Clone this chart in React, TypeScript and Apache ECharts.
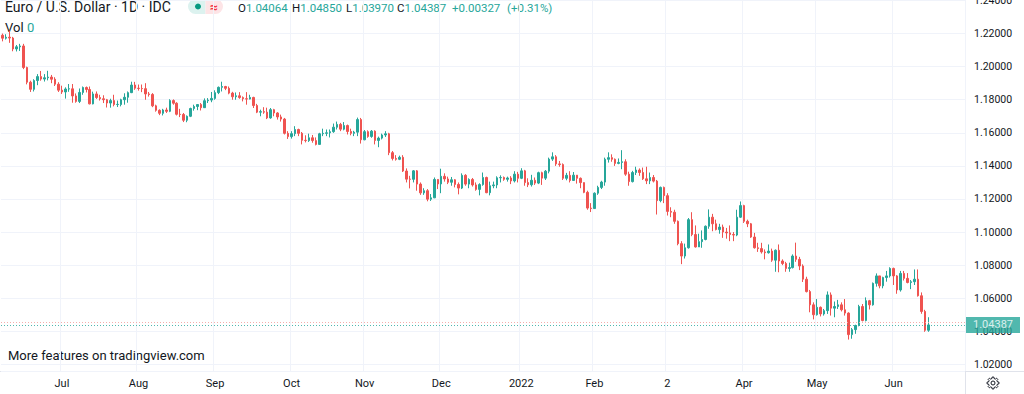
import React, { useEffect, useRef } from "react";
import * as echarts from "echarts";

// ---- data ----
const firstDate = "2021-06-08";
const lastDate = "2022-06-15";
const padSlots = 10;

const monthLabelDates = [
  "2021-07-01", "2021-08-02", "2021-09-01", "2021-10-01", "2021-11-01", "2021-12-01",
  "2022-01-03", "2022-02-01", "2022-03-02", "2022-04-01", "2022-05-02", "2022-06-01",
];
const monthLabels = ["Jul", "Aug", "Sep", "Oct", "Nov", "Dec", "2022", "Feb", "2", "Apr", "May", "Jun"];

// [open, close, low, high]
const ohlc: number[][] = [
  // Jun 2021
  [1.2190, 1.2172, 1.2153, 1.2200], [1.2172, 1.2178, 1.2164, 1.2196], [1.2178, 1.2173, 1.2144, 1.2219], [1.2173, 1.2107, 1.2093, 1.2180],
  [1.2107, 1.2120, 1.2092, 1.2131], [1.2120, 1.2125, 1.2095, 1.2138], [1.2125, 1.1995, 1.1985, 1.2138], [1.1995, 1.1906, 1.1893, 1.2000], [1.1906, 1.1863, 1.1847, 1.1915],
  [1.1863, 1.1916, 1.1850, 1.1924], [1.1916, 1.1940, 1.1888, 1.1955], [1.1940, 1.1925, 1.1915, 1.1974], [1.1925, 1.1933, 1.1910, 1.1955], [1.1933, 1.1937, 1.1917, 1.1975],
  [1.1937, 1.1924, 1.1900, 1.1950], [1.1924, 1.1894, 1.1883, 1.1936], [1.1894, 1.1858, 1.1847, 1.1906],
  // Jul
  [1.1858, 1.1847, 1.1835, 1.1885], [1.1847, 1.1865, 1.1807, 1.1875],
  [1.1865, 1.1866, 1.1848, 1.1895], [1.1866, 1.1823, 1.1782, 1.1895], [1.1823, 1.1790, 1.1782, 1.1838], [1.1790, 1.1844, 1.1780, 1.1868], [1.1844, 1.1874, 1.1830, 1.1880],
  [1.1874, 1.1862, 1.1844, 1.1880], [1.1862, 1.1775, 1.1772, 1.1880], [1.1775, 1.1835, 1.1772, 1.1849], [1.1835, 1.1813, 1.1805, 1.1850], [1.1813, 1.1806, 1.1795, 1.1830],
  [1.1806, 1.1800, 1.1780, 1.1827], [1.1800, 1.1780, 1.1753, 1.1805], [1.1780, 1.1795, 1.1752, 1.1806], [1.1795, 1.1771, 1.1760, 1.1830], [1.1771, 1.1772, 1.1756, 1.1795],
  [1.1771, 1.1800, 1.1760, 1.1806], [1.1800, 1.1815, 1.1770, 1.1839], [1.1815, 1.1843, 1.1782, 1.1850], [1.1843, 1.1889, 1.1840, 1.1909], [1.1889, 1.1870, 1.1860, 1.1908],
  // Aug
  [1.1870, 1.1868, 1.1855, 1.1892], [1.1868, 1.1867, 1.1846, 1.1892], [1.1867, 1.1835, 1.1800, 1.1900], [1.1835, 1.1832, 1.1819, 1.1847], [1.1832, 1.1763, 1.1755, 1.1840],
  [1.1763, 1.1736, 1.1728, 1.1770], [1.1736, 1.1718, 1.1707, 1.1742], [1.1718, 1.1738, 1.1705, 1.1745], [1.1738, 1.1730, 1.1720, 1.1752], [1.1730, 1.1795, 1.1725, 1.1803],
  [1.1795, 1.1779, 1.1770, 1.1802], [1.1779, 1.1712, 1.1705, 1.1785], [1.1712, 1.1711, 1.1695, 1.1745], [1.1711, 1.1676, 1.1665, 1.1720], [1.1676, 1.1700, 1.1664, 1.1705],
  [1.1700, 1.1747, 1.1695, 1.1752], [1.1747, 1.1759, 1.1734, 1.1770], [1.1759, 1.1771, 1.1737, 1.1774], [1.1771, 1.1752, 1.1735, 1.1780], [1.1752, 1.1794, 1.1750, 1.1808],
  [1.1794, 1.1798, 1.1780, 1.1810], [1.1798, 1.1808, 1.1785, 1.1847],
  // Sep
  [1.1808, 1.1843, 1.1800, 1.1857], [1.1843, 1.1875, 1.1834, 1.1880], [1.1875, 1.1880, 1.1850, 1.1909],
  [1.1880, 1.1869, 1.1858, 1.1884], [1.1869, 1.1840, 1.1833, 1.1880], [1.1840, 1.1818, 1.1800, 1.1848], [1.1818, 1.1824, 1.1800, 1.1844], [1.1824, 1.1813, 1.1806, 1.1846],
  [1.1813, 1.1806, 1.1790, 1.1820], [1.1806, 1.1804, 1.1770, 1.1846], [1.1804, 1.1814, 1.1802, 1.1830], [1.1814, 1.1765, 1.1750, 1.1818], [1.1765, 1.1725, 1.1719, 1.1775],
  [1.1725, 1.1728, 1.1700, 1.1740], [1.1728, 1.1725, 1.1715, 1.1755], [1.1725, 1.1690, 1.1683, 1.1752], [1.1690, 1.1740, 1.1685, 1.1750], [1.1740, 1.1720, 1.1700, 1.1745],
  [1.1720, 1.1696, 1.1680, 1.1725], [1.1696, 1.1683, 1.1668, 1.1710], [1.1683, 1.1597, 1.1590, 1.1690], [1.1597, 1.1577, 1.1563, 1.1610],
  // Oct
  [1.1577, 1.1595, 1.1565, 1.1610],
  [1.1595, 1.1620, 1.1580, 1.1640], [1.1620, 1.1597, 1.1580, 1.1625], [1.1597, 1.1555, 1.1530, 1.1605], [1.1555, 1.1553, 1.1542, 1.1585], [1.1553, 1.1570, 1.1545, 1.1595],
  [1.1570, 1.1553, 1.1540, 1.1587], [1.1553, 1.1530, 1.1524, 1.1572], [1.1530, 1.1594, 1.1530, 1.1600], [1.1594, 1.1597, 1.1580, 1.1625], [1.1597, 1.1600, 1.1580, 1.1620],
  [1.1600, 1.1607, 1.1572, 1.1620], [1.1607, 1.1634, 1.1600, 1.1656], [1.1634, 1.1651, 1.1620, 1.1668], [1.1651, 1.1622, 1.1610, 1.1660], [1.1622, 1.1644, 1.1615, 1.1665],
  [1.1644, 1.1608, 1.1590, 1.1650], [1.1608, 1.1597, 1.1585, 1.1625], [1.1597, 1.1604, 1.1580, 1.1612], [1.1604, 1.1680, 1.1580, 1.1692], [1.1680, 1.1558, 1.1535, 1.1690],
  // Nov
  [1.1558, 1.1607, 1.1555, 1.1617], [1.1607, 1.1578, 1.1570, 1.1615], [1.1578, 1.1610, 1.1570, 1.1617], [1.1610, 1.1554, 1.1530, 1.1615], [1.1554, 1.1568, 1.1513, 1.1577],
  [1.1568, 1.1587, 1.1560, 1.1595], [1.1587, 1.1594, 1.1575, 1.1610], [1.1594, 1.1480, 1.1465, 1.1600], [1.1480, 1.1445, 1.1433, 1.1490], [1.1445, 1.1440, 1.1432, 1.1465],
  [1.1440, 1.1452, 1.1435, 1.1462],
  [1.1452, 1.1369, 1.1363, 1.1465], [1.1369, 1.1320, 1.1300, 1.1385], [1.1320, 1.1319, 1.1264, 1.1340], [1.1319, 1.1370, 1.1300, 1.1375], [1.1370, 1.1290, 1.1250, 1.1375],
  [1.1290, 1.1237, 1.1225, 1.1300], [1.1237, 1.1250, 1.1225, 1.1265], [1.1250, 1.1199, 1.1186, 1.1260], [1.1199, 1.1207, 1.1188, 1.1230], [1.1207, 1.1318, 1.1205, 1.1330],
  [1.1318, 1.1291, 1.1260, 1.1320], [1.1291, 1.1337, 1.1235, 1.1383],
  // Dec
  [1.1337, 1.1321, 1.1305, 1.1355], [1.1321, 1.1301, 1.1290, 1.1335], [1.1301, 1.1316, 1.1280, 1.1333],
  [1.1316, 1.1288, 1.1270, 1.1320], [1.1288, 1.1266, 1.1228, 1.1300], [1.1266, 1.1343, 1.1260, 1.1355], [1.1343, 1.1290, 1.1280, 1.1350], [1.1290, 1.1318, 1.1265, 1.1325],
  [1.1318, 1.1285, 1.1275, 1.1327], [1.1285, 1.1258, 1.1250, 1.1300], [1.1258, 1.1287, 1.1222, 1.1295], [1.1287, 1.1330, 1.1280, 1.1360], [1.1330, 1.1238, 1.1235, 1.1335],
  [1.1238, 1.1280, 1.1222, 1.1305], [1.1280, 1.1285, 1.1265, 1.1305], [1.1285, 1.1328, 1.1265, 1.1337], [1.1328, 1.1330, 1.1300, 1.1343], [1.1330, 1.1319, 1.1310, 1.1336],
  [1.1319, 1.1327, 1.1305, 1.1335], [1.1327, 1.1309, 1.1290, 1.1338], [1.1309, 1.1350, 1.1300, 1.1368], [1.1350, 1.1325, 1.1300, 1.1364], [1.1325, 1.1370, 1.1320, 1.1386],
  // Jan 2022
  [1.1370, 1.1299, 1.1280, 1.1376], [1.1299, 1.1286, 1.1272, 1.1325], [1.1286, 1.1313, 1.1275, 1.1346], [1.1313, 1.1296, 1.1285, 1.1330], [1.1296, 1.1359, 1.1290, 1.1365],
  [1.1359, 1.1326, 1.1285, 1.1365], [1.1326, 1.1368, 1.1315, 1.1375], [1.1368, 1.1441, 1.1355, 1.1450], [1.1441, 1.1455, 1.1430, 1.1482], [1.1455, 1.1412, 1.1400, 1.1465],
  [1.1412, 1.1408, 1.1395, 1.1430], [1.1408, 1.1325, 1.1315, 1.1415], [1.1325, 1.1343, 1.1313, 1.1358], [1.1343, 1.1312, 1.1300, 1.1368], [1.1312, 1.1344, 1.1310, 1.1363],
  [1.1344, 1.1325, 1.1293, 1.1345], [1.1325, 1.1299, 1.1265, 1.1330], [1.1299, 1.1240, 1.1235, 1.1300], [1.1240, 1.1145, 1.1135, 1.1250], [1.1145, 1.1142, 1.1121, 1.1175],
  [1.1142, 1.1235, 1.1140, 1.1240],
  // Feb
  [1.1235, 1.1270, 1.1225, 1.1280], [1.1270, 1.1302, 1.1260, 1.1310], [1.1302, 1.1440, 1.1280, 1.1450], [1.1440, 1.1450, 1.1420, 1.1482],
  [1.1450, 1.1440, 1.1425, 1.1470], [1.1440, 1.1415, 1.1400, 1.1445], [1.1415, 1.1421, 1.1410, 1.1445], [1.1421, 1.1425, 1.1380, 1.1495], [1.1425, 1.1350, 1.1340, 1.1440],
  [1.1350, 1.1305, 1.1280, 1.1365], [1.1305, 1.1360, 1.1300, 1.1370], [1.1360, 1.1375, 1.1345, 1.1395], [1.1375, 1.1360, 1.1340, 1.1385], [1.1360, 1.1322, 1.1315, 1.1390],
  [1.1322, 1.1310, 1.1290, 1.1395], [1.1310, 1.1330, 1.1290, 1.1360], [1.1330, 1.1308, 1.1300, 1.1345], [1.1308, 1.1190, 1.1106, 1.1315], [1.1190, 1.1270, 1.1180, 1.1275],
  [1.1270, 1.1220, 1.1175, 1.1275],
  // Mar
  [1.1220, 1.1125, 1.1100, 1.1235], [1.1125, 1.1120, 1.1090, 1.1150], [1.1120, 1.1065, 1.1050, 1.1135], [1.1065, 1.0930, 1.0920, 1.1070],
  [1.0930, 1.0855, 1.0806, 1.0945], [1.0855, 1.0905, 1.0840, 1.0930], [1.0905, 1.1075, 1.0900, 1.1085], [1.1075, 1.0985, 1.0975, 1.1120], [1.0985, 1.0910, 1.0906, 1.1040],
  [1.0910, 1.0942, 1.0915, 1.0990], [1.0942, 1.0955, 1.0905, 1.1010], [1.0955, 1.1035, 1.0950, 1.1040], [1.1035, 1.1090, 1.1020, 1.1137], [1.1090, 1.1050, 1.1005, 1.1110],
  [1.1050, 1.1015, 1.1010, 1.1075], [1.1015, 1.1030, 1.0990, 1.1050], [1.1030, 1.1000, 1.0965, 1.1045], [1.1000, 1.0995, 1.0960, 1.1025], [1.0995, 1.0985, 1.0945, 1.1040],
  [1.0985, 1.0982, 1.0945, 1.1000], [1.0982, 1.1090, 1.0975, 1.1135], [1.1090, 1.1160, 1.1085, 1.1185], [1.1160, 1.1065, 1.1055, 1.1165],
  // Apr
  [1.1065, 1.1050, 1.1030, 1.1075],
  [1.1050, 1.0970, 1.0965, 1.1055], [1.0970, 1.0905, 1.0900, 1.0995], [1.0905, 1.0900, 1.0880, 1.0935], [1.0900, 1.0880, 1.0870, 1.0935], [1.0880, 1.0875, 1.0835, 1.0895],
  [1.0875, 1.0885, 1.0870, 1.0925], [1.0885, 1.0830, 1.0820, 1.0900], [1.0830, 1.0890, 1.0760, 1.0895], [1.0890, 1.0825, 1.0757, 1.0925], [1.0825, 1.0810, 1.0800, 1.0835],
  [1.0810, 1.0780, 1.0760, 1.0820], [1.0780, 1.0785, 1.0760, 1.0815], [1.0785, 1.0855, 1.0780, 1.0865], [1.0855, 1.0835, 1.0820, 1.0936], [1.0835, 1.0795, 1.0770, 1.0850],
  [1.0795, 1.0715, 1.0698, 1.0805], [1.0715, 1.0640, 1.0635, 1.0730], [1.0640, 1.0560, 1.0515, 1.0650], [1.0560, 1.0500, 1.0472, 1.0575], [1.0500, 1.0545, 1.0495, 1.0595],
  // May
  [1.0545, 1.0505, 1.0490, 1.0550], [1.0505, 1.0525, 1.0495, 1.0535], [1.0525, 1.0620, 1.0505, 1.0641], [1.0620, 1.0540, 1.0495, 1.0635], [1.0540, 1.0550, 1.0485, 1.0580],
  [1.0550, 1.0560, 1.0535, 1.0590], [1.0560, 1.0530, 1.0520, 1.0575], [1.0530, 1.0510, 1.0495, 1.0595], [1.0510, 1.0380, 1.0350, 1.0515], [1.0380, 1.0410, 1.0355, 1.0420],
  [1.0410, 1.0435, 1.0385, 1.0440], [1.0435, 1.0550, 1.0430, 1.0560], [1.0550, 1.0465, 1.0460, 1.0565], [1.0465, 1.0585, 1.0460, 1.0605], [1.0585, 1.0560, 1.0532, 1.0590],
  [1.0560, 1.0690, 1.0555, 1.0695], [1.0690, 1.0735, 1.0670, 1.0750], [1.0735, 1.0675, 1.0660, 1.0735], [1.0675, 1.0725, 1.0660, 1.0730], [1.0725, 1.0735, 1.0700, 1.0765],
  [1.0735, 1.0780, 1.0725, 1.0787], [1.0780, 1.0735, 1.0680, 1.0785],
  // Jun 2022
  [1.0735, 1.0650, 1.0627, 1.0740], [1.0650, 1.0750, 1.0640, 1.0765], [1.0750, 1.0720, 1.0707, 1.0765],
  [1.0720, 1.0695, 1.0690, 1.0752], [1.0695, 1.0700, 1.0655, 1.0710], [1.0700, 1.0715, 1.0680, 1.0774], [1.0715, 1.0615, 1.0610, 1.0774], [1.0615, 1.0520, 1.0506, 1.0635],
  [1.0520, 1.0406, 1.0397, 1.0530], [1.04064, 1.04387, 1.0397, 1.0485],
];

const referenceLevel = 1.0452;

// ---- helpers ----
function weekdayDates(from: string, to: string, extra: number): string[] {
  const out: string[] = [];
  const d = new Date(from + "T00:00:00Z");
  const end = new Date(to + "T00:00:00Z");
  let extraLeft = extra;
  while (d <= end || extraLeft > 0) {
    const day = d.getUTCDay();
    if (day !== 0 && day !== 6) {
      out.push(d.toISOString().slice(0, 10));
      if (d > end) extraLeft--;
    }
    d.setUTCDate(d.getUTCDate() + 1);
  }
  return out;
}

const categories = weekdayDates(firstDate, lastDate, padSlots);

function gearPath(): string {
  const pts: string[] = [];
  const rO = 6, rI = 4.6;
  for (let i = 0; i < 8; i++) {
    const a = (i * 45 * Math.PI) / 180;
    const seq: [number, number][] = [
      [rI, a - 0.23], [rO, a - 0.15], [rO, a + 0.15], [rI, a + 0.23],
    ];
    seq.forEach(([r, t], k) => {
      const x = (r * Math.cos(t)).toFixed(2);
      const y = (r * Math.sin(t)).toFixed(2);
      pts.push((i === 0 && k === 0 ? "M" : "L") + x + " " + y);
    });
  }
  return pts.join(" ") + " Z M2 0 A2 2 0 1 0 -2 0 A2 2 0 1 0 2 0 Z";
}

const FONT = "Roboto, 'Noto Sans', sans-serif";
const TEAL = "#26a69a";
const RED = "#ef5350";
const TEXT = "#131722";

export default function App() {
  const ref = useRef<HTMLDivElement>(null);

  useEffect(() => {
    if (!ref.current) return;
    echarts.graphic.registerShape("gear", echarts.graphic.extendPath(gearPath(), {}));
    const chart = echarts.init(ref.current, null, { renderer: "svg" });

    const labelIndex = new Map<number, string>();
    monthLabelDates.forEach((d, i) => {
      const idx = categories.indexOf(d);
      if (idx >= 0) labelIndex.set(idx, monthLabels[i]);
    });

    const last = ohlc[ohlc.length - 1];
    const prevClose = ohlc[ohlc.length - 2][1];
    const change = last[1] - prevClose;
    const pct = (change / prevClose) * 100;
    const sign = change >= 0 ? "+" : "-";

    const headerGroups: [number, string, string][] = [
      [238, "O", last[0].toFixed(5)],
      [292, "H", last[3].toFixed(5)],
      [346, "L", last[2].toFixed(5)],
      [397, "C", last[1].toFixed(5)],
      [452, "", sign + Math.abs(change).toFixed(5)],
      [507, "", "(" + sign + Math.abs(pct).toFixed(2) + "%)"],
    ];

    const option: any = {
      animation: false,
      backgroundColor: "#ffffff",
      grid: { left: 1, right: 59, top: 0, bottom: 23, containLabel: false, outerBoundsMode: "none" },
      xAxis: {
        type: "category",
        data: categories,
        boundaryGap: true,
        axisLine: { show: false },
        axisTick: { show: false },
        axisLabel: {
          interval: (i: number) => labelIndex.has(i),
          formatter: (_v: string, i: number) => labelIndex.get(i) || "",
          color: TEXT,
          fontSize: 11,
          fontFamily: FONT,
          margin: 7,
        },
        splitLine: {
          show: true,
          interval: (i: number) => labelIndex.has(i),
          lineStyle: { color: "#f0f3fa", width: 1 },
        },
      },
      yAxis: {
        type: "value",
        position: "right",
        min: 1.016,
        max: 1.2403,
        splitNumber: 11,
        axisLine: { show: false },
        axisTick: { show: false },
        axisLabel: {
          formatter: (v: number) => v.toFixed(5),
          color: TEXT,
          fontSize: 10.5,
          fontFamily: FONT,
          margin: 9,
          showMinLabel: false,
          showMaxLabel: false,
        },
        splitLine: { show: true, lineStyle: { color: "#f0f3fa", width: 1 } },
      },
      series: [
        {
          type: "candlestick",
          data: ohlc,
          barWidth: 2,
          itemStyle: {
            color: TEAL,
            color0: RED,
            borderColor: TEAL,
            borderColor0: RED,
            borderWidth: 1,
          },
          markLine: {
            silent: true,
            precision: 5,
            symbol: ["none", "none"],
            animation: false,
            lineStyle: { color: TEAL, type: [1, 2], width: 1, opacity: 0.8 },
            data: [
              {
                yAxis: referenceLevel,
                lineStyle: { color: "#f4a6a4", type: [1, 2], width: 1, opacity: 0.9 },
                label: { show: false },
              },
              {
                yAxis: last[1],
                lineStyle: { color: TEAL, type: [1, 2], width: 1, opacity: 0.8 },
                label: {
                  show: true,
                  position: "end",
                  distance: 1,
                  formatter: last[1].toFixed(5),
                  color: "#ffffff",
                  backgroundColor: TEAL,
                  padding: [2, 7, 2, 7],
                  fontSize: 11,
                  lineHeight: 12,
                  fontFamily: FONT,
                },
              },
            ],
          },
        },
      ],
      graphic: [
        { type: "line", silent: true, shape: { x1: 965.5, y1: 0, x2: 965.5, y2: 394 }, style: { stroke: "#e0e3eb", lineWidth: 1 } },
        { type: "line", silent: true, shape: { x1: 0, y1: 371.5, x2: 1024, y2: 371.5 }, style: { stroke: "#e0e3eb", lineWidth: 1 } },
        {
          type: "text", left: 5, top: 0,
          style: { text: "Euro / U.S. Dollar · 1D · IDC", fill: TEXT, font: `14px ${FONT}` },
        },
        { type: "rect", shape: { x: 188, y: -1, width: 17.5, height: 15, r: [7.5, 0, 0, 7.5] }, style: { fill: "#dcf2ef" } },
        { type: "rect", shape: { x: 205.5, y: -1, width: 17.5, height: 15, r: [0, 7.5, 7.5, 0] }, style: { fill: "#fde4e6" } },
        { type: "circle", shape: { cx: 198, cy: 6.5, r: 3 }, style: { fill: "#089981" } },
        {
          type: "text", x: 214, y: 6.5,
          style: { text: "≈", fill: "#f23645", font: `bold 14px ${FONT}`, align: "center", verticalAlign: "middle" },
        },
        ...headerGroups.map(([x, l, v]) => ({
          type: "text", x, y: 8,
          style: {
            text: (l ? "{l|" + l + "}" : "") + "{v|" + v + "}",
            verticalAlign: "middle",
            rich: {
              l: { fill: TEXT, font: `11.5px ${FONT}` },
              v: { fill: TEAL, font: `11.5px ${FONT}` },
            },
          },
        })),
        {
          type: "text", x: 5, y: 27,
          style: {
            text: "{l|Vol} {v|0}",
            verticalAlign: "middle",
            rich: {
              l: { fill: TEXT, font: `13px ${FONT}` },
              v: { fill: TEAL, font: `13px ${FONT}` },
            },
          },
        },
        {
          type: "text", x: 8, y: 355,
          style: { text: "More features on tradingview.com", fill: TEXT, font: `13px ${FONT}`, verticalAlign: "middle" },
        },
        {
          type: "gear", x: 993, y: 383,
          style: { fill: "none", stroke: TEXT, lineWidth: 1 },
        },
      ],
    };

    chart.setOption(option);
    return () => chart.dispose();
  }, []);

  return (
    <div
      ref={ref}
      style={{ position: "fixed", left: 0, top: 0, width: 1024, height: 394, background: "#fff" }}
    />
  );
}
